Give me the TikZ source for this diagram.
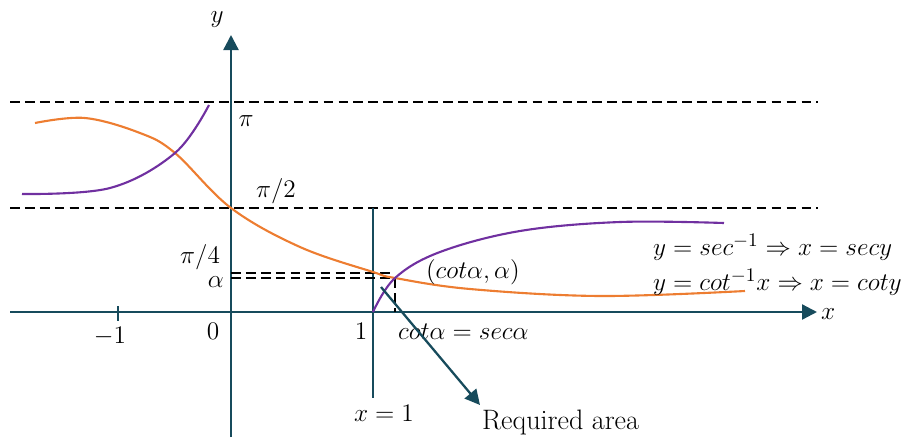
\documentclass[tikz,border=0pt]{standalone}
\usepackage{amsmath}
\usepackage{xcolor}
\usetikzlibrary{arrows.meta,positioning,calc}
\definecolor{axisteal}{HTML}{174B5C}
\definecolor{myorange}{HTML}{ED7D31}
\definecolor{mypurple}{HTML}{7030A0}

\begin{document}
\begin{tikzpicture}[
		x=0.02cm,
		y=-0.02cm,
		>={Triangle[length=3mm,width=3mm]},
		line cap=butt,
		line join=round,
		axis/.style={->,line width=1.3pt,draw=axisteal},
		plain/.style={line width=1.3pt,draw=axisteal},
		level/.style={line width=1.1pt,dash pattern=on 5.5pt off 3pt},
		cotcurve/.style={line width=1.2pt,myorange},
		seccurve/.style={line width=1.2pt,mypurple},
		lbl/.style={font=\fontsize{15}{18}\selectfont,inner sep=1pt}
	]
	\useasboundingbox (0,0) rectangle (921,437);
	
	% Axis ends
	\coordinate (xstart) at (10,312);
	\coordinate (xend)   at (817,312);
	\coordinate (ystart) at (231,437);
	\coordinate (yend)   at (231,35);
	
	% Axes
	\draw[axis] (xstart) -- (xend);
	\draw[axis] (ystart) -- (yend);
	\node[lbl,anchor=west] (xlab) at (819,314) {$x$};
	\node[lbl] (ylab) at (217,20) {$y$};
	
	% Asymptote levels
	\draw[level] (10,102) -- (818,102);
	\draw[level] (10,208) -- (818,208);
	
	% Line x = 1
	\coordinate (xonetop) at (373,208);
	\coordinate (xonebot) at (373,398);
	\draw[plain] (xonetop) -- (xonebot);
	\node[lbl] (xonelab) at (384,413) {$x=1$};
	
	% Tick at -1
	\draw[plain] (118,306) -- (118,321);
	
	% Axis labels
	\node[lbl] (mone) at (110,336) {$-1$};
	\node[lbl] (zero) at (213,331) {$0$};
	\node[lbl] (one)  at (361,331) {$1$};
	\node[lbl] (pi)   at (246,121) {$\pi$};
	\node[lbl] (pitwo) at (276,191) {$\pi/2$};
	\node[lbl,anchor=east] (pifour) at (222,257) {$\pi/4$};
	\node[lbl,anchor=east] (alab) at (226,282) {$\alpha$};
	
	% Intersection point
	\coordinate (meet) at (395,278);
	
	% Dashed guides to alpha
	\draw[level,line width=1pt] (231,273) -- (395,273);
	\draw[level,line width=1pt] (231,278) -- (meet) -- (395,312);
	
	% Inverse cotangent
	\draw[cotcurve]
	plot[smooth,tension=0.6] coordinates {
		(35,123)
		(85,118)
		(140,133)
		(175,153)
		(231,208)
		(300,247)
		(373,272)
		(395,278)
		(470,289)
		(600,296)
		(745,291)
	};
	
	% Inverse secant, left branch
	\draw[seccurve]
	plot[smooth,tension=0.6] coordinates {
		(22,194)
		(110,188)
		(175,153)
		(209,105)
	};
	
	% Inverse secant, right branch
	\draw[seccurve]
	plot[smooth,tension=0.6] coordinates {
		(373,312)
		(395,278)
		(440,252)
		(520,231)
		(620,222)
		(724,223)
	};
	
	% Point and equation labels
	\node[lbl,anchor=west] (ptlab) at (424,272) {$(cot\alpha,\alpha)$};
	\node[lbl,anchor=west] (eqlab) at (396,332) {$cot\alpha=sec\alpha$};
	\node[lbl,anchor=west] (seclab) at (651,247) {$y=sec^{-1}\Rightarrow x=secy$};
	\node[lbl,anchor=west] (cotlab) at (651,282) {$y=cot^{-1}x\Rightarrow x=coty$};
	
	% Pointer to the area
	\coordinate (areastart) at (381,287);
	\node[lbl,anchor=west,font=\fontsize{16}{19}\selectfont] (arealab) at (480,422) {Required area};
	\draw[axis] (areastart) -- (480,405);
	
\end{tikzpicture}
\end{document}
